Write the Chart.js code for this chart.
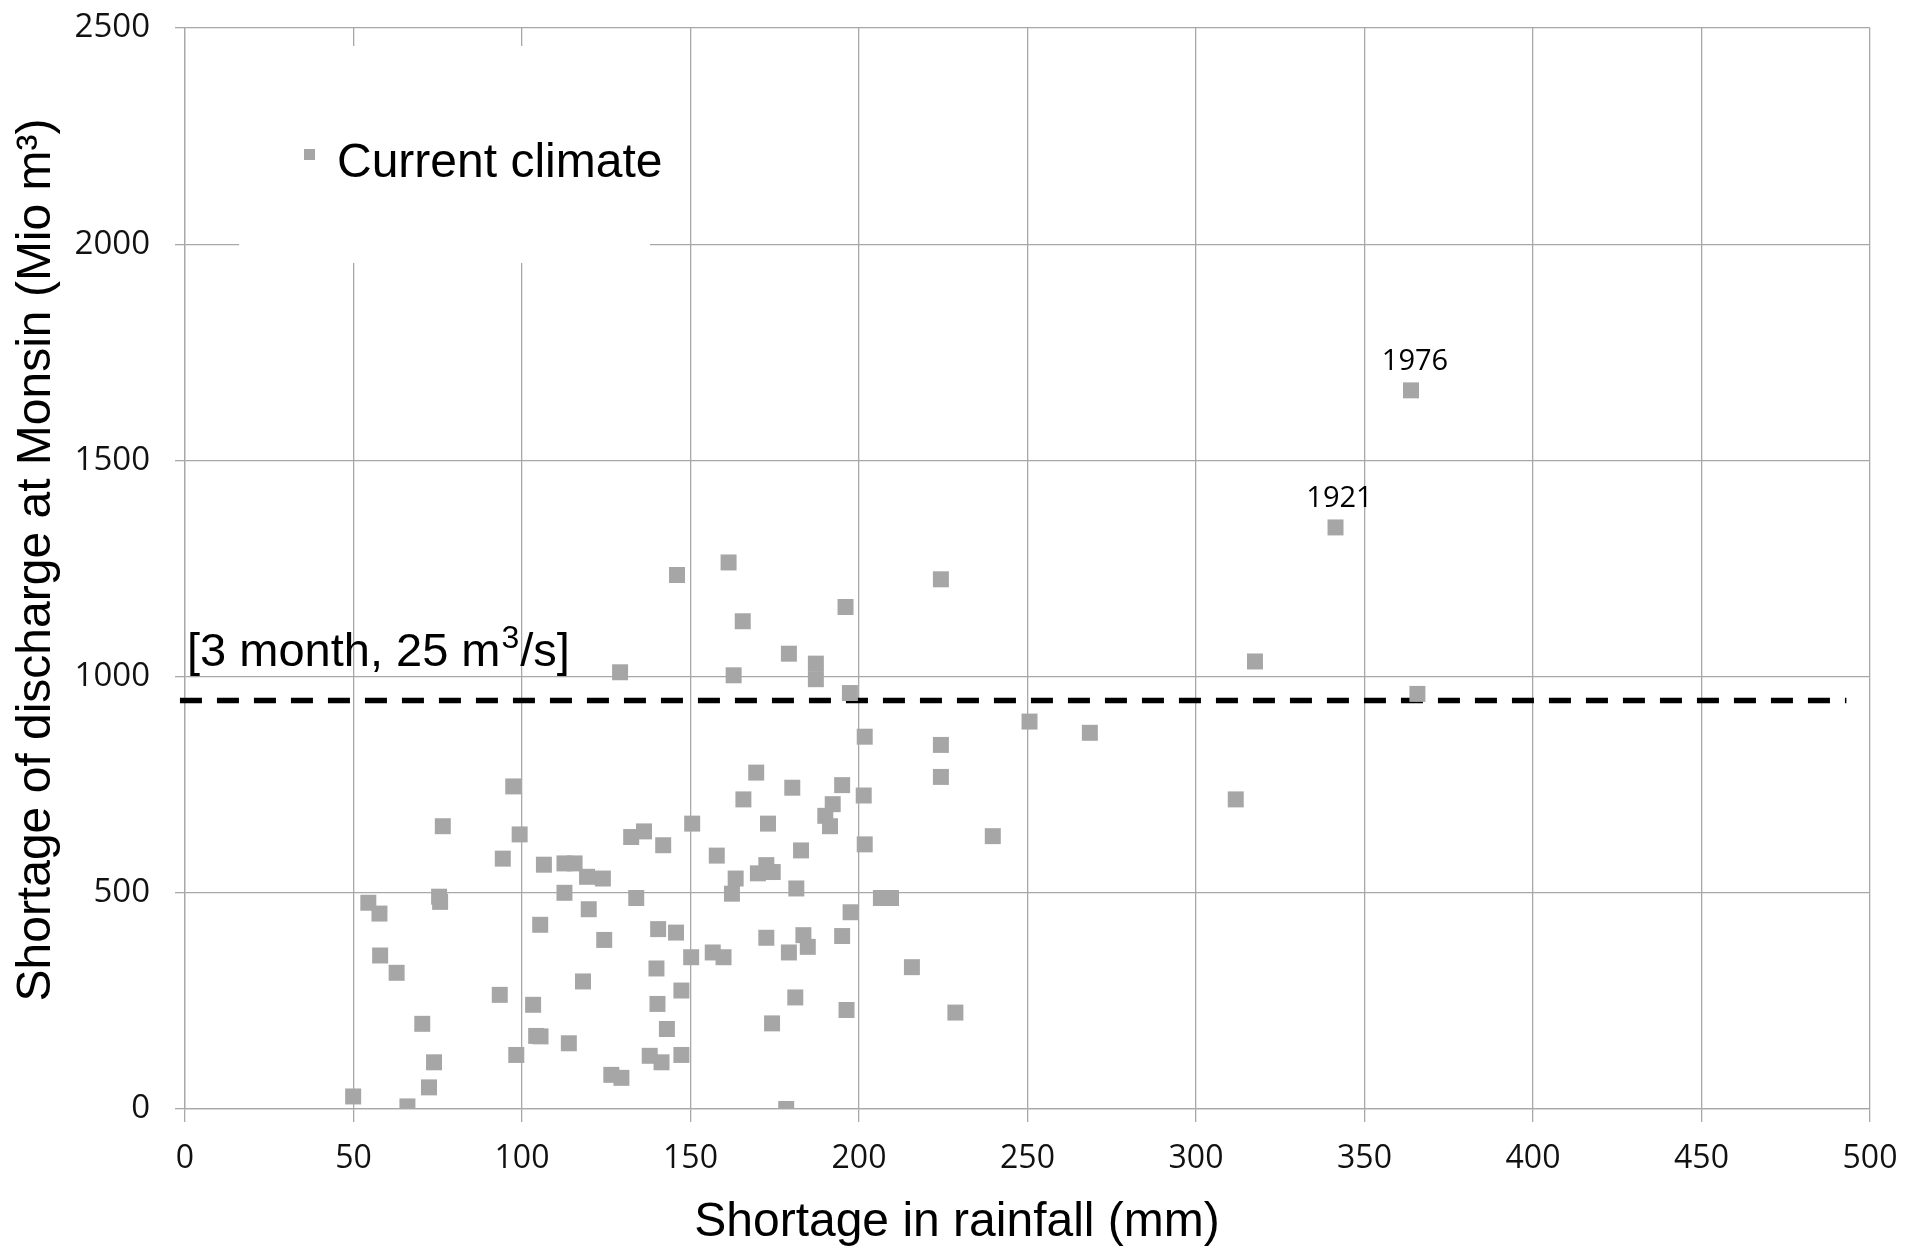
<!DOCTYPE html>
<html>
<head>
<meta charset="utf-8">
<script src="https://cdn.jsdelivr.net/npm/chart.js@4.4.0/dist/chart.umd.min.js"></script>
<style>
html, body { margin: 0; padding: 0; background: #fff; }
</style>
</head>
<body>
<canvas id="myChart" width="1923" height="1258"></canvas>
<script>
// shortage in rainfall (mm) per year
var rainfall = [
    49.9, 54.4, 57.7, 57.9, 62.8, 66.0, 70.4, 72.4, 73.9, 75.4,
    75.7, 76.5, 93.4, 94.3, 97.4, 98.3, 99.3, 103.3, 104.2, 105.5,
    105.4, 106.5, 112.6, 115.6, 112.6, 113.9, 118.1, 119.3, 119.8, 124.0,
    124.4, 126.5, 129.5, 129.1, 132.4, 133.9, 136.2, 137.9, 139.9, 140.2,
    140.4, 141.4, 141.9, 143.0, 145.7, 146.0, 147.3, 147.3, 150.2, 150.5,
    156.6, 157.8, 159.8, 161.3, 162.3, 162.8, 163.4, 165.5, 165.7, 169.5,
    170.0, 172.5, 174.4, 172.5, 173.0, 174.2, 178.4, 179.2, 179.2, 180.2,
    181.1, 181.4, 182.8, 183.5, 184.8, 187.2, 187.2, 190.0, 191.4, 192.2,
    195.0, 195.0, 196.0, 196.3, 197.3, 197.5, 201.4, 201.7, 201.7, 206.5,
    209.5, 215.7, 224.3, 224.3, 224.3, 228.6, 239.7, 250.6, 268.5, 311.8,
    317.5, 341.4, 363.8, 365.7
];
// shortage of discharge at Monsin (Mio m3)
var discharge = [
    29, 477, 452, 355, 315, 6, 197, 50, 108, 491,
    479, 654, 264, 579, 746, 125, 635, 241, 169, 168,
    426, 565, 568, 568, 500, 152, 295, 537, 462, 533,
    391, 79, 72, 1010, 629, 488, 642, 123, 325, 243,
    416, 108, 610, 185, 408, 1235, 274, 125, 351, 660,
    362, 586, 351, 1264, 498, 1003, 533, 1128, 716, 778,
    545, 564, 548, 396, 660, 198, 0, 362, 1053, 743,
    258, 510, 598, 402, 375, 1030, 994, 678, 654, 705,
    749, 400, 1161, 229, 962, 455, 725, 612, 861, 488,
    488, 328, 1225, 842, 768, 223, 631, 896, 870, 716,
    1035, 1345, 1662, 960
];
var namedYears = ['1921', '1976'];
var namedYearIndex = [101, 102];

var xTicks = [0, 50, 100, 150, 200, 250, 300, 350, 400, 450, 500];
var yTicks = [0, 500, 1000, 1500, 2000, 2500];

var thresholdValue = 945;
var thresholdFrom = -1.5;
var thresholdTo = 493;
var thresholdText = ['[3 month, 25 m', '3', '/s]'];

var seriesName = 'Current climate';
var xTitle = 'Shortage in rainfall (mm)';
var yTitle = 'Shortage of discharge at Monsin (Mio m\u00b3)';

var points = [];
for (var i = 0; i < rainfall.length; i++) {
    points.push({x: rainfall[i], y: discharge[i]});
}

var gridGray = '#a8a8a8';
var markerGray = '#a6a6a6';

var extraDrawing = {
    id: 'extraDrawing',
    afterDatasetsDraw: function(chart) {
        var ctx = chart.ctx;
        var xs = chart.scales.x, ys = chart.scales.y;
        var area = chart.chartArea;
        ctx.save();

        // legend box (white, over the grid)
        ctx.fillStyle = '#fff';
        ctx.fillRect(area.left + 54, area.top + 18, 411, 217);
        ctx.fillStyle = markerGray;
        ctx.fillRect(area.left + 119, area.top + 121, 11, 11);
        ctx.fillStyle = '#000';
        ctx.font = '48px "Liberation Sans", Arial, sans-serif';
        ctx.textAlign = 'left';
        ctx.textBaseline = 'middle';
        ctx.fillText(seriesName, area.left + 152, area.top + 136);

        // threshold label
        var lx = xs.getPixelForValue(0) + 2;
        var ly = ys.getPixelForValue(1025);
        ctx.textBaseline = 'alphabetic';
        ctx.font = '47px "Liberation Sans", Arial, sans-serif';
        ctx.fillText(thresholdText[0], lx, ly);
        var w = ctx.measureText(thresholdText[0]).width;
        ctx.font = '32px "Liberation Sans", Arial, sans-serif';
        ctx.fillText(thresholdText[1], lx + w + 1, ly - 18);
        var w2 = ctx.measureText(thresholdText[1]).width;
        ctx.font = '47px "Liberation Sans", Arial, sans-serif';
        ctx.fillText(thresholdText[2], lx + w + w2 + 2, ly);

        // year labels
        ctx.font = '29px "Open Sans", sans-serif';
        ctx.textAlign = 'center';
        for (var k = 0; k < namedYears.length; k++) {
            var idx = namedYearIndex[k];
            var px = xs.getPixelForValue(rainfall[idx]);
            var py = ys.getPixelForValue(discharge[idx]);
            ctx.fillText(namedYears[k], px + 4, py - 20);
        }

        // axis titles
        ctx.font = '48px "Liberation Sans", Arial, sans-serif';
        ctx.textAlign = 'center';
        ctx.textBaseline = 'middle';
        ctx.fillText(xTitle, 957, 1223);
        ctx.translate(37, 560);
        ctx.rotate(-Math.PI / 2);
        ctx.font = '48px "Liberation Sans", Arial, sans-serif';
        ctx.fillText(yTitle, 0, 0);
        ctx.restore();
    }
};

var ctx = document.getElementById('myChart').getContext('2d');
var myChart = new Chart(ctx, {
    type: 'scatter',
    data: {
        datasets: [
            {
                label: seriesName,
                data: points,
                pointStyle: 'rect',
                pointRadius: 11.3,
                pointBorderWidth: 0,
                backgroundColor: markerGray,
                borderColor: markerGray
            },
            {
                type: 'line',
                label: 'threshold',
                data: [{x: thresholdFrom, y: thresholdValue}, {x: thresholdTo, y: thresholdValue}],
                borderColor: '#000',
                borderWidth: 5.5,
                borderDash: [22, 15],
                pointRadius: 0,
                fill: false,
                clip: false
            }
        ]
    },
    options: {
        responsive: false,
        animation: false,
        devicePixelRatio: 1,
        layout: { padding: { top: 28, right: 53, left: 0, bottom: 0 } },
        plugins: {
            legend: { display: false },
            tooltip: { enabled: false }
        },
        scales: {
            x: {
                type: 'linear',
                min: 0,
                max: 500,
                afterBuildTicks: function(s) { s.ticks = xTicks.map(function(v) { return {value: v}; }); },
                afterFit: function(s) { s.height = 149; },
                grid: { color: gridGray, lineWidth: 1.3, tickLength: 13 },
                border: { color: gridGray, width: 1.3 },
                ticks: {
                    font: { family: '"Open Sans", sans-serif', size: 32 },
                    color: '#111',
                    padding: 18,
                    maxRotation: 0,
                    callback: function(v) { return String(v); }
                }
            },
            y: {
                type: 'linear',
                min: 0,
                max: 2500,
                afterBuildTicks: function(s) { s.ticks = yTicks.map(function(v) { return {value: v}; }); },
                afterFit: function(s) { s.width = 185; s.paddingTop = 10; s.paddingBottom = 10; },
                grid: { color: gridGray, lineWidth: 1.3, tickLength: 10 },
                border: { color: gridGray, width: 1.3 },
                ticks: {
                    font: { family: '"Open Sans", sans-serif', size: 33 },
                    color: '#111',
                    padding: 25,
                    callback: function(v) { return String(v); }
                }
            }
        }
    },
    plugins: [extraDrawing]
});
</script>
</body>
</html>
